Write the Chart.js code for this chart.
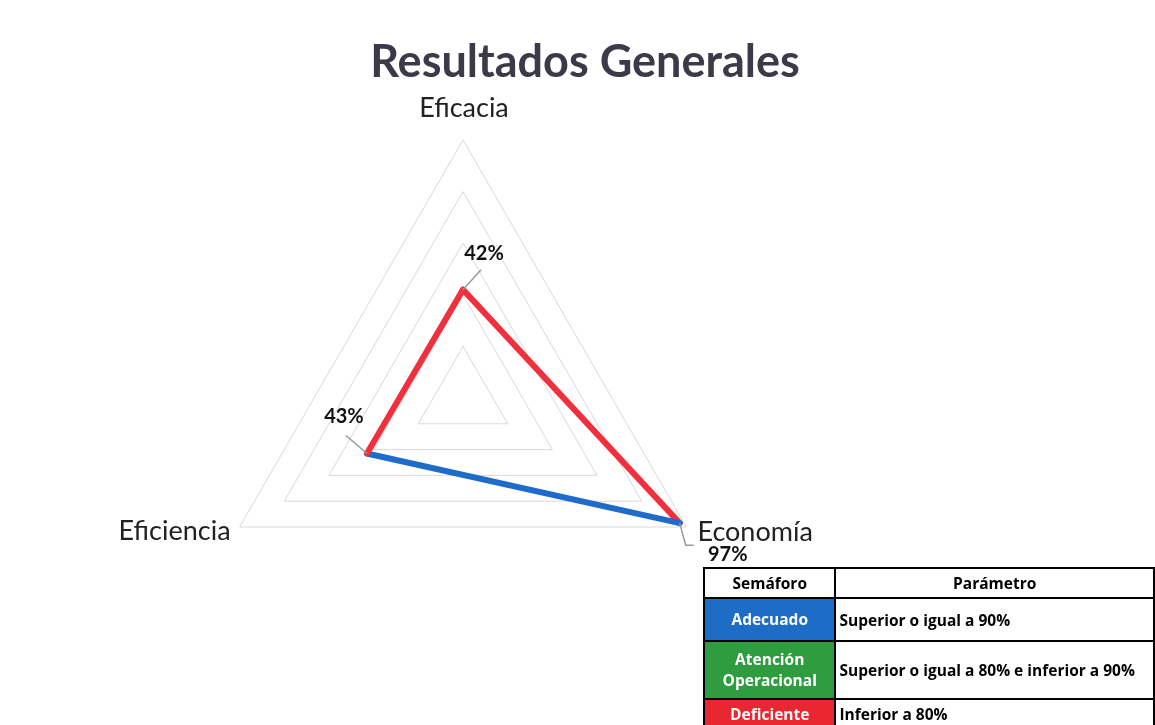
<!DOCTYPE html>
<html><head><meta charset="utf-8">
<script src="https://cdn.jsdelivr.net/npm/chart.js@4.4.1/dist/chart.umd.min.js"></script>
<style>
html,body{margin:0;padding:0;background:#fff;width:1155px;height:725px;overflow:hidden;position:relative;}
#wrap{position:absolute;left:0;top:0;width:1155px;height:725px;}
#title{position:absolute;left:0;top:35px;width:1170px;text-align:center;font-family:Lato,sans-serif;font-weight:700;font-size:45px;color:#3a3a48;line-height:50px;}
table{position:absolute;left:703px;top:567px;border-collapse:collapse;font-family:"Open Sans",sans-serif;font-weight:700;font-size:15.5px;}
td{border:2px solid #000;padding:0 3px;}
td.c{width:126px;text-align:center;color:#fff;line-height:21px;}
td.p{width:330px;color:#000;}
</style></head>
<body>
<div id="wrap"><canvas id="c" width="1155" height="725"></canvas></div>
<div id="title">Resultados Generales</div>
<table>
<tr style="height:30px"><td class="c" style="color:#000">Semáforo</td><td class="p" style="text-align:center">Parámetro</td></tr>
<tr style="height:43px"><td class="c" style="background:#1d6dc6">Adecuado</td><td class="p">Superior o igual a 90%</td></tr>
<tr style="height:58px"><td class="c" style="background:#2f9c40">Atención<br>Operacional</td><td class="p">Superior o igual a 80% e inferior a 90%</td></tr>
<tr style="height:30px"><td class="c" style="background:#ea2630">Deficiente</td><td class="p">Inferior a 80%</td></tr>
</table>
<script>
const categories = ['Eficacia', 'Economía', 'Eficiencia'];
const values = [42, 97, 43];
const tickValues = [0, 20, 40, 60, 80, 100];
const thresholdGood = 90;
const thresholdWarn = 80;

const BLUE = '#1e6bcc', GREEN = '#2f9a3c', RED = '#f0303c';
function colorFor(v){ return v >= thresholdGood ? BLUE : (v >= thresholdWarn ? GREEN : RED); }

// The radar line is stroked as one segment per edge (including the closing edge),
// each coloured by the value at its starting vertex.
const segmentPlugin = {
  id: 'segmentPlugin',
  beforeDatasetDraw(chart, args){
    const line = args.meta.dataset;
    if (!line || !line.options) return;
    const n = line.points ? line.points.length : 0;
    const segs = [];
    for (let i = 0; i < n; i++) {
      segs.push({ start: i, end: (i + 1) % n, loop: false, style: { borderColor: colorFor(values[i]) } });
    }
    line._chart = chart;
    line._datasetIndex = args.index;
    if (!line.options.segment) line.options = Object.assign({}, line.options, { segment: {} });
    line._segments = segs;
  }
};

const labelsPlugin = {
  id: 'labelsPlugin',
  afterDatasetsDraw(chart){
    const ctx = chart.ctx;
    const scale = chart.scales.r;
    const meta = chart.getDatasetMeta(0);
    ctx.save();
    ctx.fillStyle = '#222';
    ctx.font = '27px Lato, sans-serif';
    ctx.textBaseline = 'middle';
    const outer = categories.map((c,i)=>scale.getPointPosition(i, scale.drawingArea));
    ctx.textAlign = 'center';
    ctx.fillText(categories[0], outer[0].x + 1, outer[0].y - 32);
    ctx.textAlign = 'left';
    ctx.fillText(categories[1], outer[1].x + 11, outer[1].y + 5);
    ctx.textAlign = 'right';
    ctx.fillText(categories[2], outer[2].x - 9, outer[2].y + 4);
    ctx.strokeStyle = '#9a9a9a';
    ctx.lineWidth = 1.5;
    ctx.fillStyle = '#111';
    ctx.font = 'bold 20px Lato, sans-serif';
    ctx.textAlign = 'center';
    const p = meta.data.map(e=>({x:e.x,y:e.y}));
    const txt = values.map(v=>v+'%');
    ctx.beginPath(); ctx.moveTo(p[0].x, p[0].y); ctx.lineTo(p[0].x+18, p[0].y-20); ctx.stroke();
    ctx.fillText(txt[0], p[0].x+21, p[0].y-36);
    ctx.beginPath(); ctx.moveTo(p[1].x, p[1].y); ctx.lineTo(p[1].x+6, p[1].y+22); ctx.lineTo(p[1].x+14, p[1].y+22); ctx.stroke();
    ctx.fillText(txt[1], p[1].x+48, p[1].y+31);
    ctx.beginPath(); ctx.moveTo(p[2].x, p[2].y); ctx.lineTo(p[2].x-21, p[2].y-18); ctx.stroke();
    ctx.fillText(txt[2], p[2].x-23, p[2].y-37);
    ctx.restore();
  }
};

new Chart(document.getElementById('c'), {
  type: 'radar',
  data: {
    labels: categories,
    datasets: [{
      data: values,
      fill: false,
      borderWidth: 6,
      borderColor: RED,
      pointRadius: 0,
      pointHoverRadius: 0,
      tension: 0,
      borderJoinStyle: 'round',
      borderCapStyle: 'round'
    }]
  },
  options: {
    responsive: false,
    animation: false,
    layout: { padding: { left: 205, top: 140, right: 434, bottom: 69 } },
    plugins: { legend: { display: false }, tooltip: { enabled: false }, title: { display: false } },
    scales: {
      r: {
        min: tickValues[0], max: tickValues[tickValues.length-1],
        ticks: { stepSize: 20, display: false },
        grid: { color: '#d9d9d9', lineWidth: 1 },
        angleLines: { display: false },
        pointLabels: { display: false }
      }
    }
  },
  plugins: [segmentPlugin, labelsPlugin]
});
</script>
</body></html>
